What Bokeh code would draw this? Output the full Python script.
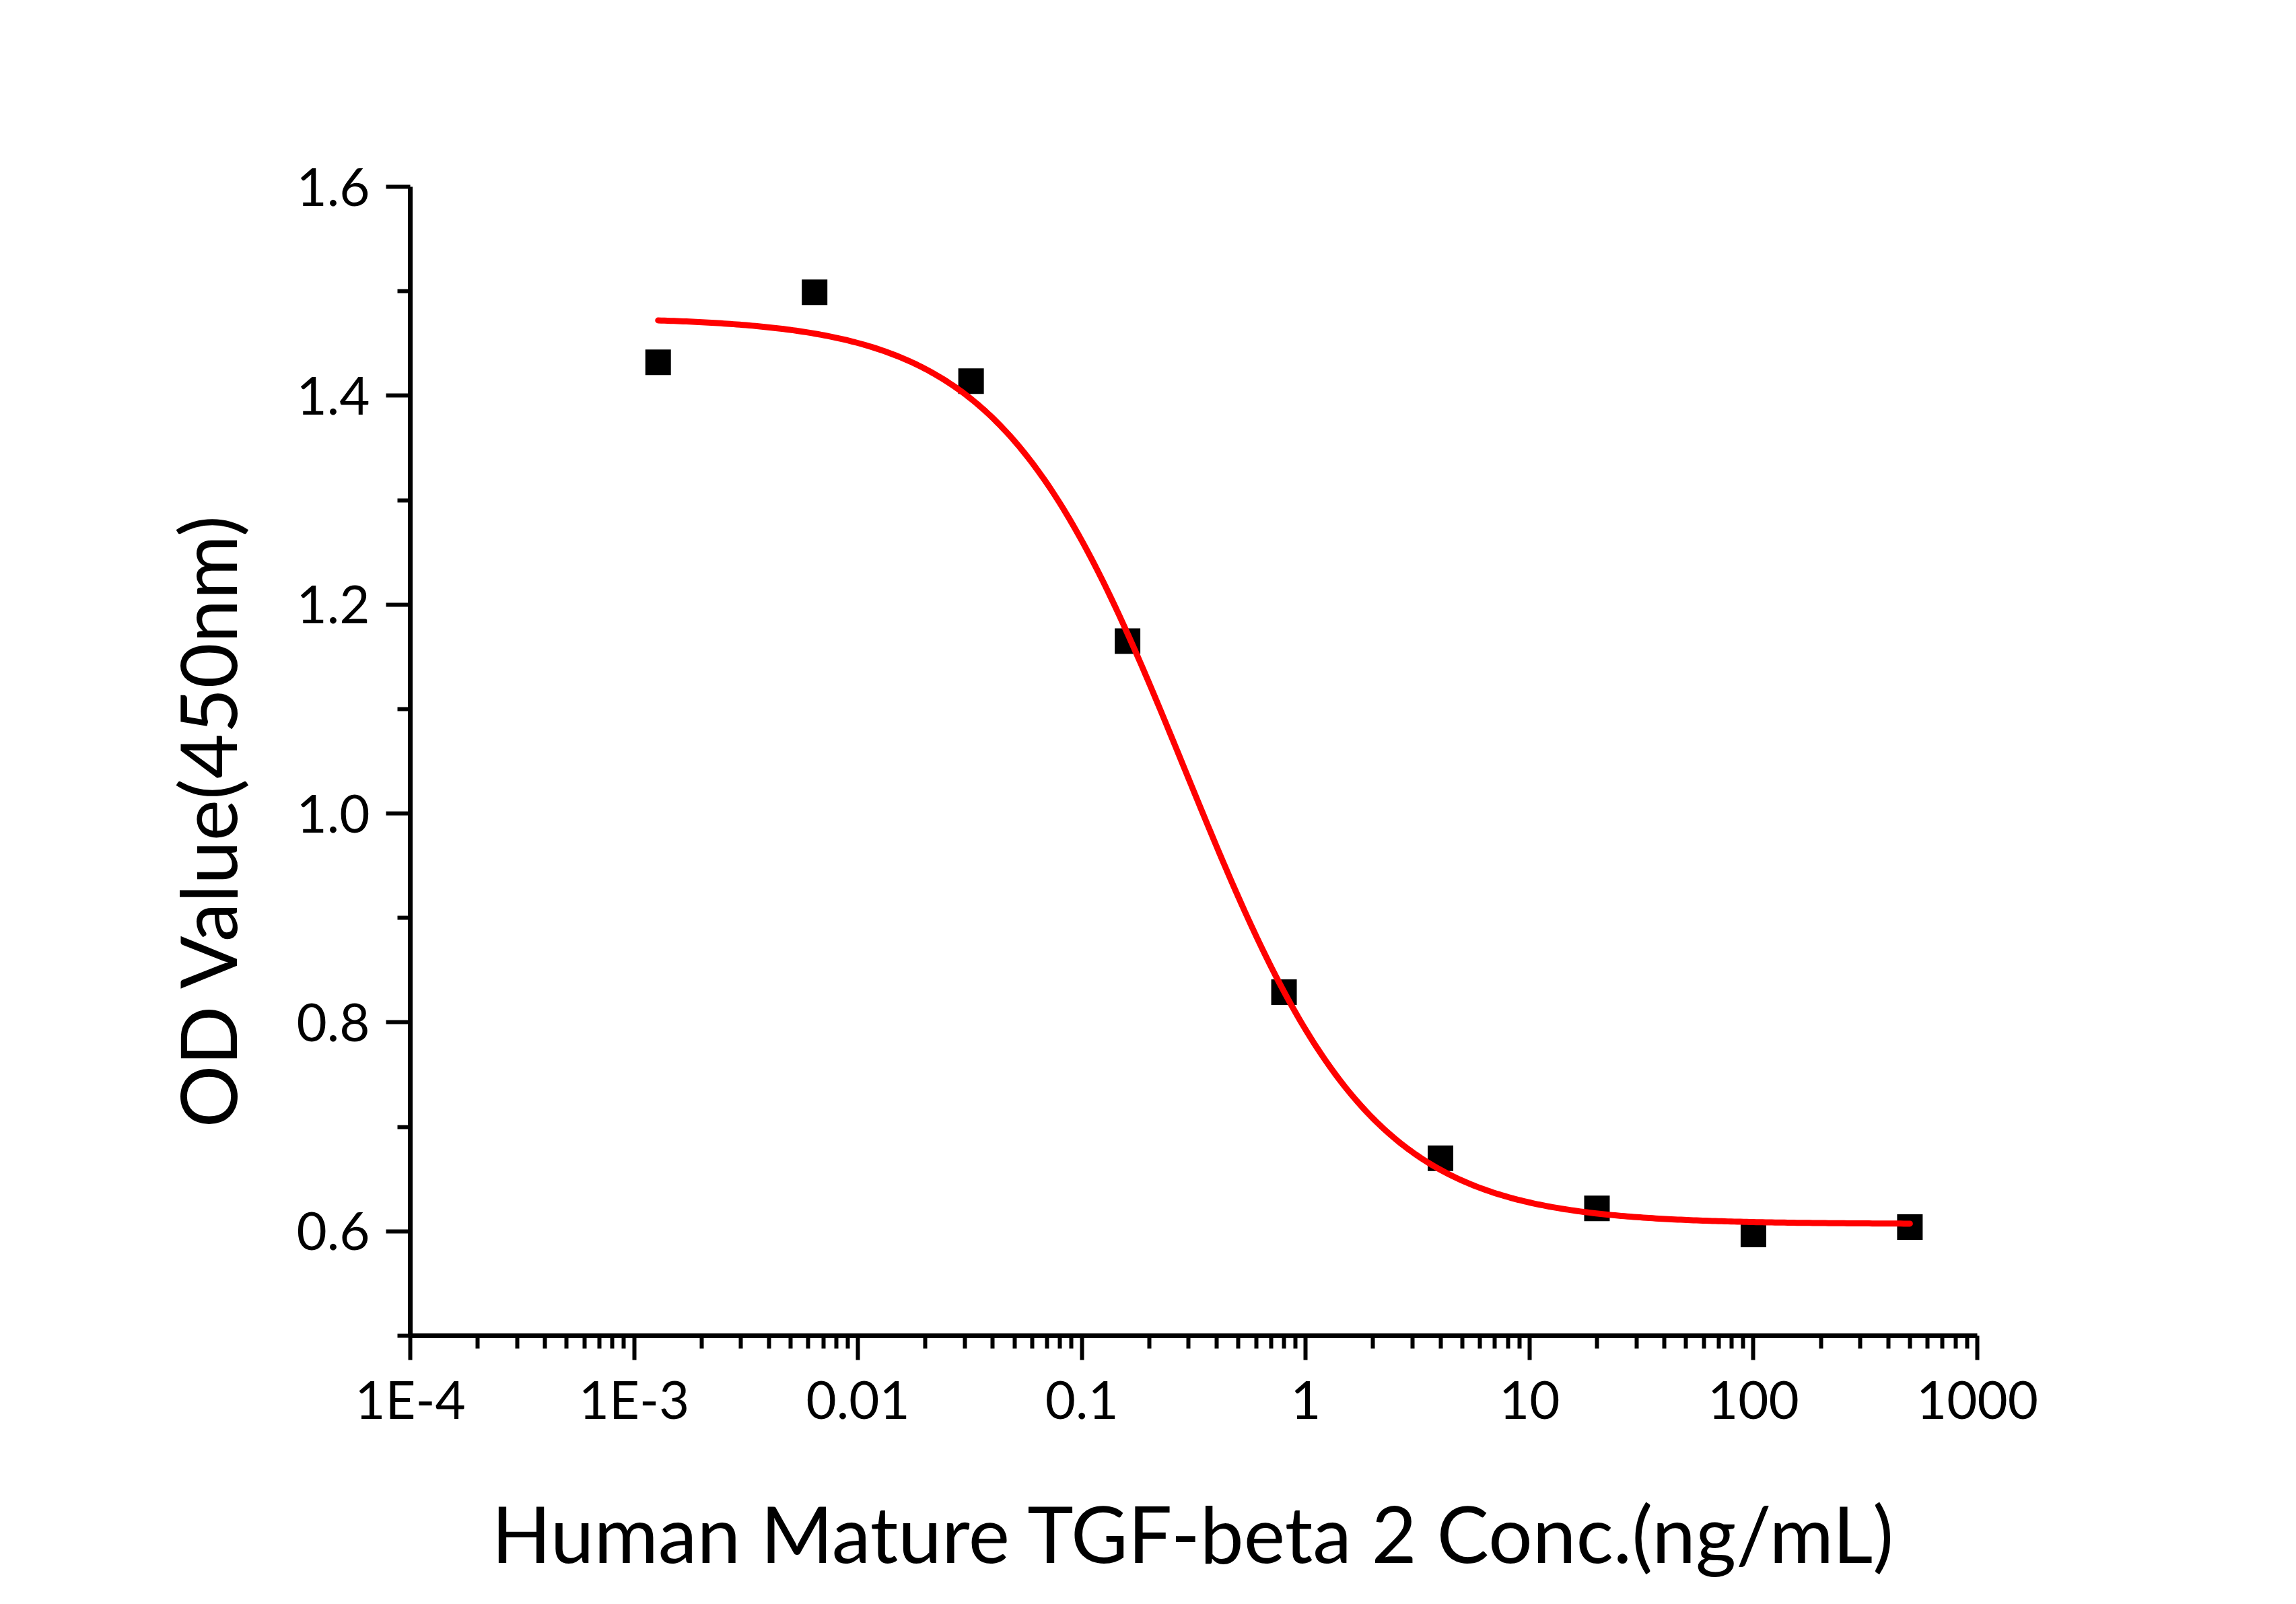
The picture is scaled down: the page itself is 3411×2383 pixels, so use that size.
import numpy as np
from bokeh.plotting import figure
from bokeh.models import Range1d, FixedTicker, CustomJSTickFormatter, PrintfTickFormatter, Title
from bokeh.embed import file_html
from bokeh.resources import INLINE

# Measured OD at 450 nm for a 5-fold dilution series (ng/mL)
conc = [0.00128, 0.0064, 0.032, 0.16, 0.8, 4, 20, 100, 500]
od_450 = [1.432, 1.499, 1.414, 1.165, 0.829, 0.670, 0.622, 0.597, 0.604]

# Four-parameter logistic fit of the series
fit_top = 1.475
fit_bottom = 0.607
fit_ec50 = 0.29
fit_hill = 1.05

# Axis ticks and labels
x_ticks = [1e-4, 1e-3, 1e-2, 1e-1, 1, 10, 100, 1000]
x_tick_labels = ["1E-4", "1E-3", "0.01", "0.1", "1", "10", "100", "1000"]
y_ticks = [0.6, 0.8, 1.0, 1.2, 1.4, 1.6]
y_minor_ticks = [0.5, 0.7, 0.9, 1.1, 1.3, 1.5]

x_title = "Human Mature TGF-beta 2 Conc.(ng/mL)"
y_title = "OD Value(450nm)"

FONT = "Lato"

p = figure(
    width=3411, height=2383,
    x_axis_type="log",
    x_range=Range1d(1e-4, 1000), y_range=Range1d(0.5, 1.6),
    output_backend="svg", toolbar_location=None,
    min_border_left=609, min_border_right=474,
    min_border_top=277, min_border_bottom=399,
)
p.outline_line_color = None
p.grid.visible = False
p.background_fill_color = "white"
p.border_fill_color = "white"

# fitted curve on a log-spaced grid across the measured range
xs = np.logspace(np.log10(conc[0]), np.log10(conc[-1]), 400)
ys = fit_bottom + (fit_top - fit_bottom) / (1.0 + (xs / fit_ec50) ** fit_hill)

p.scatter(conc, od_450, marker="square", size=38, fill_color="black", line_color=None)
p.line(xs, ys, line_color="#FF0000", line_width=9, line_cap="round", line_join="round")

# x axis: decades with 2..9 minor ticks
minor_x = []
for e in range(-4, 3):
    for m in range(2, 10):
        minor_x.append(m * 10.0 ** e)
p.xaxis.ticker = FixedTicker(ticks=x_ticks, minor_ticks=minor_x)
p.xaxis.formatter = CustomJSTickFormatter(
    args=dict(vals=x_ticks, labels=x_tick_labels),
    code="""
    let best = 0, d = Infinity;
    for (let i = 0; i < vals.length; i++) {
        const dd = Math.abs(Math.log10(tick) - Math.log10(vals[i]));
        if (dd < d) { d = dd; best = i; }
    }
    return labels[best];
    """,
)
p.yaxis.ticker = FixedTicker(ticks=y_ticks, minor_ticks=y_minor_ticks)
p.yaxis.formatter = PrintfTickFormatter(format="%.1f")

for ax in (p.xaxis[0], p.yaxis[0]):
    ax.axis_line_width = 7
    ax.axis_line_color = "black"
    ax.major_tick_line_width = 6
    ax.minor_tick_line_width = 6
    ax.major_tick_line_color = "black"
    ax.minor_tick_line_color = "black"
    ax.major_tick_in = 0
    ax.major_tick_out = 36
    ax.minor_tick_in = 0
    ax.minor_tick_out = 19
    ax.major_label_text_font = FONT
    ax.major_label_text_font_size = "78px"
    ax.major_label_text_color = "black"
    ax.axis_label_text_font = FONT
    ax.axis_label_text_font_style = "normal"
    ax.axis_label_text_color = "black"

p.xaxis.major_label_standoff = 10
p.yaxis.major_label_standoff = 24
p.xaxis.axis_label = x_title
p.xaxis.axis_label_text_font_size = "116px"
p.xaxis.axis_label_standoff = 80

# vertical title, started a fixed distance above the bottom of the y axis
p.add_layout(Title(
    text=y_title, align="left", offset=309,
    text_font=FONT, text_font_size="116px", text_font_style="normal",
    text_color="black", standoff=122,
), "left")

open("out.html", "w").write(file_html(p, INLINE))
